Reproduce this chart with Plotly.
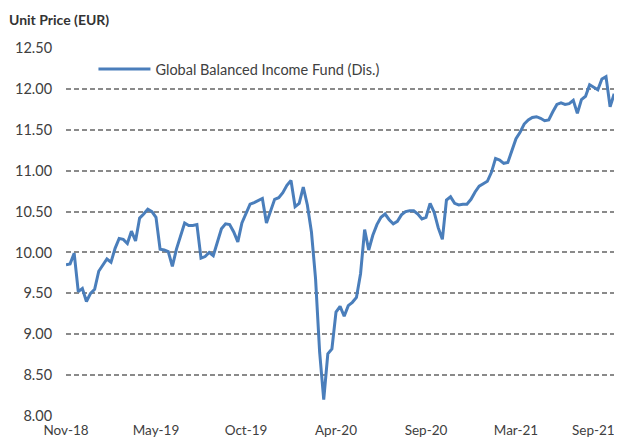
import plotly.graph_objects as go

series_name = "Global Balanced Income Fund (Dis.)"
y_title = "Unit Price (EUR)"

unit_price = [
    9.85, 9.86, 9.99, 9.52, 9.56, 9.40, 9.50, 9.55, 9.77, 9.84,
    9.92, 9.88, 10.05, 10.17, 10.16, 10.11, 10.26, 10.14, 10.42, 10.47,
    10.53, 10.50, 10.43, 10.04, 10.03, 10.01, 9.83, 10.04, 10.20, 10.36,
    10.33, 10.33, 10.34, 9.93, 9.95, 10.00, 9.96, 10.14, 10.29, 10.35,
    10.34, 10.25, 10.13, 10.36, 10.48, 10.59, 10.61, 10.64, 10.66, 10.36,
    10.50, 10.65, 10.67, 10.73, 10.82, 10.88, 10.56, 10.60, 10.80, 10.58,
    10.25, 9.68, 8.78, 8.20, 8.76, 8.82, 9.27, 9.34, 9.22, 9.35,
    9.39, 9.45, 9.74, 10.28, 10.03, 10.21, 10.34, 10.43, 10.47, 10.40,
    10.35, 10.38, 10.46, 10.50, 10.51, 10.51, 10.47, 10.41, 10.43, 10.60,
    10.49, 10.30, 10.16, 10.64, 10.68, 10.60, 10.58, 10.59, 10.59, 10.65,
    10.74, 10.81, 10.84, 10.87, 10.98, 11.15, 11.13, 11.09, 11.10, 11.26,
    11.39, 11.47, 11.57, 11.62, 11.65, 11.66, 11.64, 11.61, 11.62, 11.72,
    11.81, 11.83, 11.81, 11.82, 11.86, 11.70, 11.87, 11.91, 12.05, 12.02,
    11.99, 12.12, 12.15, 11.78, 11.94,
]

tick_labels = ["Nov-18", "May-19", "Oct-19", "Apr-20", "Sep-20", "Mar-21", "Sep-21"]
tick_step = 22
y_ticks = [8.0, 8.5, 9.0, 9.5, 10.0, 10.5, 11.0, 11.5, 12.0, 12.5]

x_idx = list(range(len(unit_price)))
tick_pos = [i * tick_step for i in range(len(tick_labels))]

fig = go.Figure()
fig.add_trace(go.Scatter(
    x=x_idx, y=unit_price, mode="lines", name=series_name,
    line=dict(color="#4A7EBB", width=3),
))

font_family = "Lato, 'Open Sans', sans-serif"
label_color = "#404040"

# the page body has an 8px margin, so the figure is 8px smaller on each axis
fig.update_layout(
    width=614, height=433,
    margin=dict(l=58, r=7, t=40, b=25, autoexpand=False),
    paper_bgcolor="white", plot_bgcolor="white",
    font=dict(family=font_family, size=14.5, color=label_color),
    showlegend=True,
    legend=dict(
        x=0.05, y=0.986, xanchor="left", yanchor="top",
        itemwidth=52,
        bgcolor="rgba(0,0,0,0)", font=dict(size=14.5, color=label_color),
    ),
    annotations=[
        dict(
            text="<b>" + y_title + "</b>", xref="paper", yref="paper",
            x=-0.107, y=1.0, xanchor="left", yanchor="bottom", yshift=18,
            showarrow=False, font=dict(size=14, color="#333333"),
        ),
        # last category label sits at the right edge: right-align it so it stays on the page
        dict(
            text=tick_labels[-1], xref="paper", yref="paper",
            x=1.0, y=0.0, xanchor="right", yanchor="top", xshift=2, yshift=-4,
            showarrow=False, font=dict(size=13.5, color=label_color),
        ),
    ],
)

fig.update_xaxes(
    range=[0, len(unit_price) - 0.8],
    tickmode="array", tickvals=tick_pos[:-1], ticktext=tick_labels[:-1],
    tickfont=dict(size=13.5),
    showgrid=False, zeroline=False, showline=False, automargin=False,
    ticks="outside", ticklen=2, tickcolor="rgba(0,0,0,0)",
)
fig.update_yaxes(
    range=[8.0, 12.5],
    tickmode="array", tickvals=y_ticks,
    ticktext=[f"{v:.2f}" for v in y_ticks],
    showgrid=True, gridcolor="#8A8A8A", gridwidth=1.6, griddash="5px,3px",
    zeroline=False, showline=False, automargin=False,
    ticks="outside", ticklen=10, tickcolor="rgba(0,0,0,0)",
)

fig.write_html("out.html")
